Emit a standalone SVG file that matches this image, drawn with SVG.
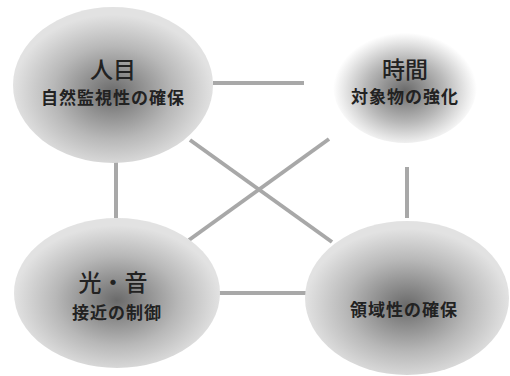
<svg xmlns="http://www.w3.org/2000/svg" width="510" height="376" viewBox="0 0 510 376">
<style>
.c{stroke:#a8a8a8;stroke-width:4;fill:none}
.t{font-family:"Noto Sans CJK JP","Noto Sans CJK SC",sans-serif;fill:#222;text-anchor:middle;font-weight:bold}
.h{font-size:23px;font-weight:500}
.s{font-size:17px;letter-spacing:1px}
</style>
<defs>
<radialGradient id="g" cx="50%" cy="55%" r="50%">
<stop offset="0" stop-color="#6a6a6a"/>
<stop offset="0.6" stop-color="#b8b8b8"/>
<stop offset="1" stop-color="#e2e2e2"/>
</radialGradient>
<radialGradient id="gf" cx="50%" cy="55%" r="50%">
<stop offset="0" stop-color="#6a6a6a"/>
<stop offset="0.55" stop-color="#b8b8b8"/>
<stop offset="0.85" stop-color="#e8e8e8"/>
<stop offset="1" stop-color="#ffffff"/>
</radialGradient>
</defs>
<rect width="510" height="376" fill="#fff"/>
<g id="connectors">
<line class="c" x1="213" y1="83" x2="304" y2="83"/>
<line class="c" x1="116" y1="160" x2="116" y2="218"/>
<line class="c" x1="190" y1="140" x2="332" y2="242"/>
<line class="c" x1="329" y1="139" x2="189" y2="240"/>
<line class="c" x1="407" y1="167" x2="407" y2="218"/>
<line class="c" x1="215" y1="293" x2="306" y2="293"/>
</g>
<g id="hitome">
<ellipse cx="113" cy="85" rx="100" ry="78" fill="url(#g)"/>
<text class="t h" x="113" y="78">人目</text>
<text class="t s" x="113" y="104">自然監視性の確保</text>
</g>
<g id="jikan">
<ellipse cx="405" cy="85" rx="72" ry="58" fill="url(#gf)"/>
<text class="t h" x="405" y="78">時間</text>
<text class="t s" x="405" y="103">対象物の強化</text>
</g>
<g id="hikari">
<ellipse cx="117" cy="293" rx="103" ry="75" fill="url(#g)"/>
<text class="t h" x="113" y="291">光・音</text>
<text class="t s" x="117" y="319">接近の制御</text>
</g>
<g id="ryoiki">
<ellipse cx="407" cy="298" rx="102" ry="77" fill="url(#g)"/>
<text class="t s" x="404" y="316">領域性の確保</text>
</g>
</svg>
